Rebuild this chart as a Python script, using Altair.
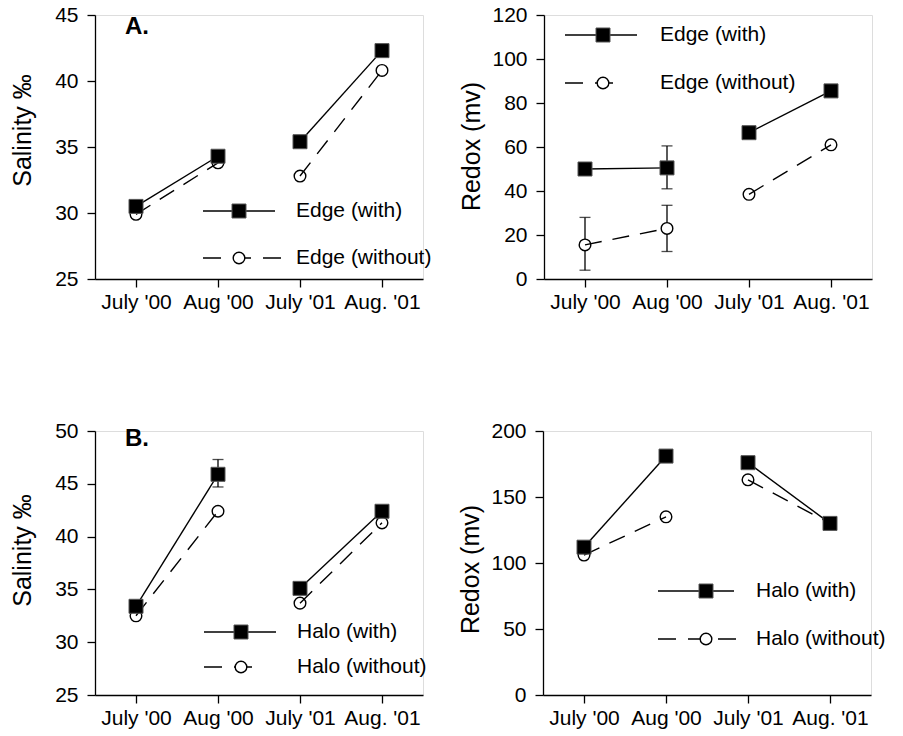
import altair as alt
import pandas as pd

months = ["July '00", "Aug '00", "July '01", "Aug. '01"]
years = ["2000", "2000", "2001", "2001"]

# Panel A (Edge) salinity
sal_edge_with = [30.5, 34.3, 35.4, 42.3]
sal_edge_without = [29.9, 33.8, 32.8, 40.8]
# Panel A (Edge) redox
redox_edge_with = [50.0, 50.5, 66.5, 85.5]
redox_edge_with_lo = [None, 41.0, None, None]
redox_edge_with_hi = [None, 60.5, None, None]
redox_edge_without = [15.5, 23.0, 38.5, 61.0]
redox_edge_without_lo = [4.0, 12.5, None, None]
redox_edge_without_hi = [28.0, 33.5, None, None]
# Panel B (Halo) salinity
sal_halo_with = [33.4, 45.9, 35.1, 42.4]
sal_halo_with_lo = [None, 44.7, None, None]
sal_halo_with_hi = [None, 47.3, None, None]
sal_halo_without = [32.5, 42.4, 33.7, 41.3]
# Panel B (Halo) redox
redox_halo_with = [112, 181, 176, 130]
redox_halo_without = [106, 135, 163, 130]

NONE4 = [None, None, None, None]
FONT = "Liberation Sans"
W, H = 328, 264
LABEL_FS = 21
TITLE_FS = 25


def frame(vals, lo=NONE4, hi=NONE4):
    return pd.DataFrame({"month": months, "year": years, "value": vals, "lo": lo, "hi": hi})


def panel(with_vals, without_vals, ydom, ystep, ytitle, title_y, labels, leg, letter=None,
          with_lo=NONE4, with_hi=NONE4, without_lo=NONE4, without_hi=NONE4):
    dw = frame(with_vals, with_lo, with_hi)
    do = frame(without_vals, without_lo, without_hi)
    x = alt.X("month:N", sort=months,
              scale=alt.Scale(type="point", domain=months, padding=0.5),
              axis=alt.Axis(title=None, labelAngle=0, tickSize=8, labelFontSize=LABEL_FS,
                            labelPadding=4, labelFont=FONT, domainColor="black",
                            tickColor="black", labelColor="black", grid=False,
                            domainWidth=1.3, tickWidth=1.3))
    yvals = list(range(ydom[0], ydom[1] + 1, ystep))
    y = alt.Y("value:Q", scale=alt.Scale(domain=ydom, nice=False, zero=False),
              axis=alt.Axis(title=ytitle, values=yvals, tickSize=8, labelFontSize=LABEL_FS,
                            labelPadding=9, labelFont=FONT, titleFont=FONT,
                            titleFontSize=TITLE_FS, titleFontWeight="normal",
                            titleX=-60, titleY=title_y, titleAngle=270,
                            titleBaseline="bottom", titleAlign="center",
                            domainColor="black", tickColor="black", labelColor="black",
                            titleColor="black", grid=False, domainWidth=1.3, tickWidth=1.3))
    layers = []
    for d in (dw, do):
        e = d.dropna(subset=["lo"])
        if len(e):
            base = alt.Chart(e)
            layers.append(base.mark_rule(color="black", strokeWidth=1.3).encode(
                x=x, y=alt.Y("lo:Q", scale=alt.Scale(domain=ydom)), y2="hi:Q"))
            layers.append(base.mark_tick(color="black", thickness=1.3, size=11).encode(
                x=x, y=alt.Y("lo:Q", scale=alt.Scale(domain=ydom))))
            layers.append(base.mark_tick(color="black", thickness=1.3, size=11).encode(
                x=x, y=alt.Y("hi:Q", scale=alt.Scale(domain=ydom))))
    layers.append(alt.Chart(do).mark_point(shape="circle", filled=True, fill="white",
                                           stroke="black", strokeWidth=1.4, size=135,
                                           opacity=1).encode(x=x, y=y))
    layers.append(alt.Chart(do).mark_line(color="black", strokeWidth=1.4,
                                          strokeDash=[17, 11]).encode(x=x, y=y, detail="year:N"))
    layers.append(alt.Chart(dw).mark_line(color="black", strokeWidth=1.4).encode(
        x=x, y=y, detail="year:N"))
    layers.append(alt.Chart(dw).mark_square(color="black", size=196, opacity=1,
                                            stroke="#555", strokeWidth=1).encode(x=x, y=y))
    # in-plot legend
    one = pd.DataFrame({"k": [0]})
    (r1y, r2y, lx1, lx2, lx2b, mx, tx) = leg
    layers.append(alt.Chart(one).mark_rule(color="black", strokeWidth=1.4).encode(
        x=alt.value(lx1), x2=alt.value(lx2), y=alt.value(r1y)))
    layers.append(alt.Chart(one).mark_rule(color="black", strokeWidth=1.4,
                                           strokeDash=[18, 12]).encode(
        x=alt.value(lx1), x2=alt.value(lx2b), y=alt.value(r2y)))
    layers.append(alt.Chart(one).mark_square(color="black", size=196, opacity=1,
                                             stroke="#555", strokeWidth=1).encode(
        x=alt.value(mx), y=alt.value(r1y)))
    layers.append(alt.Chart(one).mark_point(shape="circle", filled=True, fill="white",
                                            stroke="black", strokeWidth=1.4, size=135,
                                            opacity=1).encode(
        x=alt.value(mx), y=alt.value(r2y)))
    layers.append(alt.Chart(one).mark_text(align="left", baseline="middle", font=FONT,
                                           fontSize=LABEL_FS, color="black").encode(
        x=alt.value(tx), y=alt.value(r1y), text=alt.value(labels[0])))
    layers.append(alt.Chart(one).mark_text(align="left", baseline="middle", font=FONT,
                                           fontSize=LABEL_FS, color="black").encode(
        x=alt.value(tx), y=alt.value(r2y), text=alt.value(labels[1])))
    if letter:
        layers.append(alt.Chart(one).mark_text(align="left", baseline="middle", font=FONT,
                                               fontSize=24, fontWeight="bold",
                                               color="black").encode(
            x=alt.value(30), y=alt.value(letter[1]), text=alt.value(letter[0])))
    return alt.layer(*layers).properties(width=W, height=H)


a1 = panel(sal_edge_with, sal_edge_without, [25, 45], 5, "Salinity ‰", 115,
           ["Edge (with)", "Edge (without)"], (196, 243, 108, 180, 188, 144, 201), ("A.", 12))
a2 = panel(redox_edge_with, redox_edge_without, [0, 120], 20, "Redox (mv)", 131,
           ["Edge (with)", "Edge (without)"], (20, 68, 21, 93, 77, 59, 116),
           with_lo=redox_edge_with_lo, with_hi=redox_edge_with_hi,
           without_lo=redox_edge_without_lo, without_hi=redox_edge_without_hi)
b1 = panel(sal_halo_with, sal_halo_without, [25, 50], 5, "Salinity ‰", 119,
           ["Halo (with)", "Halo (without)"], (201, 236, 109, 181, 166, 146, 202), ("B.", 8),
           with_lo=sal_halo_with_lo, with_hi=sal_halo_with_hi)
b2 = panel(redox_halo_with, redox_halo_without, [0, 200], 50, "Redox (mv)", 138,
           ["Halo (with)", "Halo (without)"], (160, 208, 115, 191, 195, 163, 213))

chart = alt.vconcat(
    alt.hconcat(a1, a2, spacing=26),
    alt.hconcat(b1, b2, spacing=29),
    spacing=106,
).properties(padding={"left": 9, "top": 3, "right": 0, "bottom": 0}
).configure_view(strokeWidth=0, strokeOpacity=0).configure(background="white")

chart.save("out.html", embed_options={"renderer": "svg", "actions": False})
